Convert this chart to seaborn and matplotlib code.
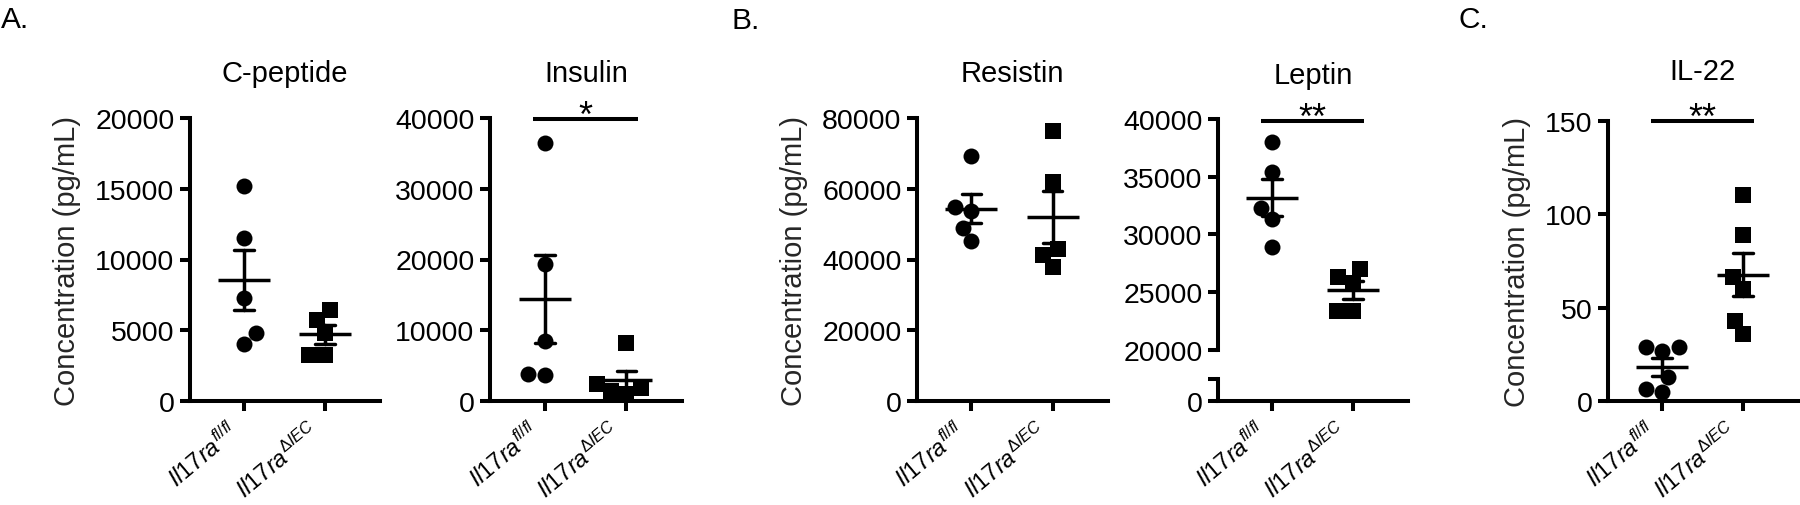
import numpy as np
import pandas as pd
import matplotlib
matplotlib.use('Agg')
import matplotlib.pyplot as plt
import seaborn as sns

# Values (pg/mL), 5-6 mice per group
groups = ['fl/fl', 'dIEC']
group_labels = [r'$\mathit{Il17ra}^{\mathit{fl/fl}}$',
                r'$\mathit{Il17ra}^{\mathit{\Delta IEC}}$']

cpep_ctrl = [15200, 11500, 7250, 4800, 4000]
cpep_ko = [6450, 5750, 4800, 3250, 3250]
ins_ctrl = [36500, 19300, 8550, 3700, 3800]
ins_ko = [8200, 2400, 1900, 1400, 950]
res_ctrl = [69200, 54900, 53700, 49000, 45100]
res_ko = [76200, 62000, 42900, 41400, 37900]
lep_ctrl = [38000, 35400, 32300, 31300, 28900]
lep_ko = [27000, 26300, 25800, 23400, 23400]
il22_ctrl = [28.8, 28.8, 27.0, 12.8, 6.6, 4.8]
il22_ko = [110.4, 89.1, 66.6, 60.2, 43.0, 35.9]

sns.set_theme(style='ticks')
plt.rcParams['font.family'] = ['Liberation Sans', 'DejaVu Sans']
plt.rcParams.update({
    'mathtext.fontset': 'custom',
    'mathtext.rm': 'Liberation Sans',
    'mathtext.it': 'Liberation Sans:italic',
    'mathtext.sf': 'Liberation Sans',
    'axes.edgecolor': 'black',
    'axes.linewidth': 2.9,
    'text.color': 'black',
    'xtick.color': 'black',
    'ytick.color': 'black',
})

FS = 21
W, H = 1800, 506
fig = plt.figure(figsize=(18, 5.06), dpi=100)


def add_ax(left, top, right, bottom):
    # pixel box -> figure fraction
    return fig.add_axes([left / W, 1 - bottom / H, (right - left) / W, (bottom - top) / H])


def make_df(ctrl, ko):
    return pd.DataFrame({'group': [groups[0]] * len(ctrl) + [groups[1]] * len(ko),
                         'value': list(ctrl) + list(ko)})


def draw_points(ax, ctrl, ko):
    df = make_df(ctrl, ko)
    sns.swarmplot(data=df[df.group == groups[0]], x='group', y='value', order=groups,
                  marker='o', color='black', size=11.5, linewidth=0, ax=ax)
    sns.swarmplot(data=df[df.group == groups[1]], x='group', y='value', order=groups,
                  marker='s', color='black', size=11, linewidth=0, ax=ax)
    sns.pointplot(data=df, x='group', y='value', order=groups, estimator='mean',
                  errorbar='se', color='black', marker='_', markersize=38,
                  markeredgewidth=2.5, linestyle='none', capsize=0.24,
                  err_kws={'linewidth': 2.5}, ax=ax)
    ax.set_xlabel('')
    ax.set_ylabel('')
    ax.set_xlim(-0.67, 1.68)


def style_ax(ax, xlabels=True):
    sns.despine(ax=ax)
    ax.tick_params(axis='both', length=7.2, width=2.9, labelsize=20.5, pad=4)
    if xlabels:
        ax.set_xticks([0, 1])
        ax.set_xticklabels(group_labels)
        ax.tick_params(axis='x', labelsize=17, pad=5)
        plt.setp(ax.get_xticklabels(), rotation=40, ha='right', va='top',
                 rotation_mode='default')


def sig_bar(ax, y, text):
    ax.plot([-0.14, 1.14], [y, y], color='black', lw=2.9, clip_on=False,
            solid_capstyle='butt')
    ax.annotate(text, xy=(0.5, y), xytext=(0, -5), textcoords='offset points',
                ha='center', va='baseline', fontsize=26, annotation_clip=False)


# A. C-peptide
ax = add_ax(190, 119, 380, 402)
draw_points(ax, cpep_ctrl, cpep_ko)
ax.set_ylim(0, 20000)
ax.set_yticks([0, 5000, 10000, 15000, 20000])
style_ax(ax)
ax.set_ylabel('Concentration (pg/mL)', fontsize=FS, labelpad=10)
ax.set_title('C-peptide', fontsize=FS, pad=27)

# A. Insulin
ax = add_ax(490, 119, 682, 402)
draw_points(ax, ins_ctrl, ins_ko)
ax.set_ylim(0, 40000)
ax.set_yticks([0, 10000, 20000, 30000, 40000])
style_ax(ax)
ax.set_title('Insulin', fontsize=FS, pad=27)
sig_bar(ax, 39800, '*')

# B. Resistin
ax = add_ax(917, 119, 1108, 402)
draw_points(ax, res_ctrl, res_ko)
ax.set_ylim(0, 80000)
ax.set_yticks([0, 20000, 40000, 60000, 80000])
style_ax(ax)
ax.set_ylabel('Concentration (pg/mL)', fontsize=FS, labelpad=10)
ax.set_title('Resistin', fontsize=FS, pad=27)

# B. Leptin (broken y axis)
ax = add_ax(1218, 120, 1408, 351)
draw_points(ax, lep_ctrl, lep_ko)
ax.set_ylim(20000, 40000)
ax.set_yticks([20000, 25000, 30000, 35000, 40000])
style_ax(ax, xlabels=False)
ax.spines['bottom'].set_visible(False)
ax.tick_params(axis='x', bottom=False, labelbottom=False)
ax.set_title('Leptin', fontsize=FS, pad=26)
sig_bar(ax, 39830, '**')

ax_low = add_ax(1218, 380, 1408, 402)
ax_low.set_xlim(-0.67, 1.68)
ax_low.set_ylim(0, 2000)
ax_low.set_yticks([0, 2000])
ax_low.set_yticklabels(['0', ''])
style_ax(ax_low)

# C. IL-22
ax = add_ax(1608, 122, 1798, 402)
draw_points(ax, il22_ctrl, il22_ko)
ax.set_ylim(0, 150)
ax.set_yticks([0, 50, 100, 150])
style_ax(ax)
ax.set_ylabel('Concentration (pg/mL)', fontsize=FS, labelpad=10)
ax.set_title('IL-22', fontsize=FS, pad=30)
sig_bar(ax, 150, '**')

# panel letters
fig.text(1 / W, 1 - 6 / H, 'A.', fontsize=21.5, va='top', ha='left')
fig.text(731 / W, 1 - 7 / H, 'B.', fontsize=21.5, va='top', ha='left')
fig.text(1459 / W, 1 - 6 / H, 'C.', fontsize=21.5, va='top', ha='left')

fig.savefig('out.png', dpi=100)
